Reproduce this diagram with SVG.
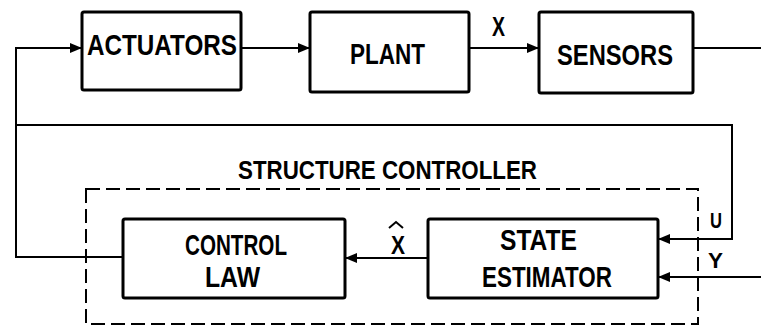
<svg xmlns="http://www.w3.org/2000/svg" width="761" height="326" viewBox="0 0 761 326">
<style>
.box{fill:#fff;stroke:#000;stroke-width:3}
.ln{fill:none;stroke:#000;stroke-width:2}
.dash{fill:none;stroke:#000;stroke-width:2;stroke-dasharray:14 6}
text{font-family:"Liberation Sans Narrow","Liberation Sans",Arial,sans-serif;font-weight:bold;fill:#000}
.t{font-size:30px}
.s{font-size:25px}
</style>
<defs>
<marker id="ah" markerWidth="12" markerHeight="10" refX="11" refY="5" orient="auto" markerUnits="userSpaceOnUse">
<path d="M0,0 L12,5 L0,10 Z" fill="#000"/>
</marker>
</defs>
<rect width="761" height="326" fill="#fff"/>
<g id="connectors">
<path class="ln" d="M241,48 H309" marker-end="url(#ah)"/>
<path class="ln" d="M469,48 H538" marker-end="url(#ah)"/>
<path class="ln" d="M693,48 H761"/>
<path class="ln" d="M123,257 H16 V48 H81" marker-end="url(#ah)"/>
<path class="ln" d="M16,125 H732 V239 H659" marker-end="url(#ah)"/>
<path class="ln" d="M761,277 H659" marker-end="url(#ah)"/>
<path class="ln" d="M428,258 H346" marker-end="url(#ah)"/>
<text x="492" y="36" font-size="28" textLength="13" lengthAdjust="spacingAndGlyphs">X</text>
<text x="710" y="228" font-size="22" textLength="12" lengthAdjust="spacingAndGlyphs">U</text>
<text x="708" y="268" font-size="22" textLength="15" lengthAdjust="spacingAndGlyphs">Y</text>
<text x="391" y="254" font-size="26" textLength="14" lengthAdjust="spacingAndGlyphs">X</text>
<path class="ln" d="M389,228 L396,222 L403,228" stroke-width="2.4"/>
</g>
<g id="structure-controller">
<rect class="dash" x="86" y="189" width="612" height="135"/>
<text class="s" x="238" y="179" textLength="299" lengthAdjust="spacingAndGlyphs">STRUCTURE CONTROLLER</text>
</g>
<g id="actuators">
<rect class="box" x="82" y="12" width="159" height="78" rx="2"/>
<text class="t" x="87" y="55" textLength="150" lengthAdjust="spacingAndGlyphs">ACTUATORS</text>
</g>
<g id="plant">
<rect class="box" x="310" y="12" width="159" height="80" rx="2"/>
<text class="t" x="350" y="64" textLength="75" lengthAdjust="spacingAndGlyphs">PLANT</text>
</g>
<g id="sensors">
<rect class="box" x="539" y="12" width="154" height="81" rx="2"/>
<text class="t" x="557" y="65" textLength="116" lengthAdjust="spacingAndGlyphs">SENSORS</text>
</g>
<g id="control-law">
<rect class="box" x="123" y="219" width="222" height="79" rx="2"/>
<text class="t" x="185" y="255" textLength="102" lengthAdjust="spacingAndGlyphs">CONTROL</text>
<text class="t" x="205" y="287" textLength="55" lengthAdjust="spacingAndGlyphs">LAW</text>
</g>
<g id="state-estimator">
<rect class="box" x="428" y="219" width="230" height="79" rx="2"/>
<text class="t" x="500" y="250" textLength="77" lengthAdjust="spacingAndGlyphs">STATE</text>
<text class="t" x="482" y="287" textLength="130" lengthAdjust="spacingAndGlyphs">ESTIMATOR</text>
</g>
</svg>
